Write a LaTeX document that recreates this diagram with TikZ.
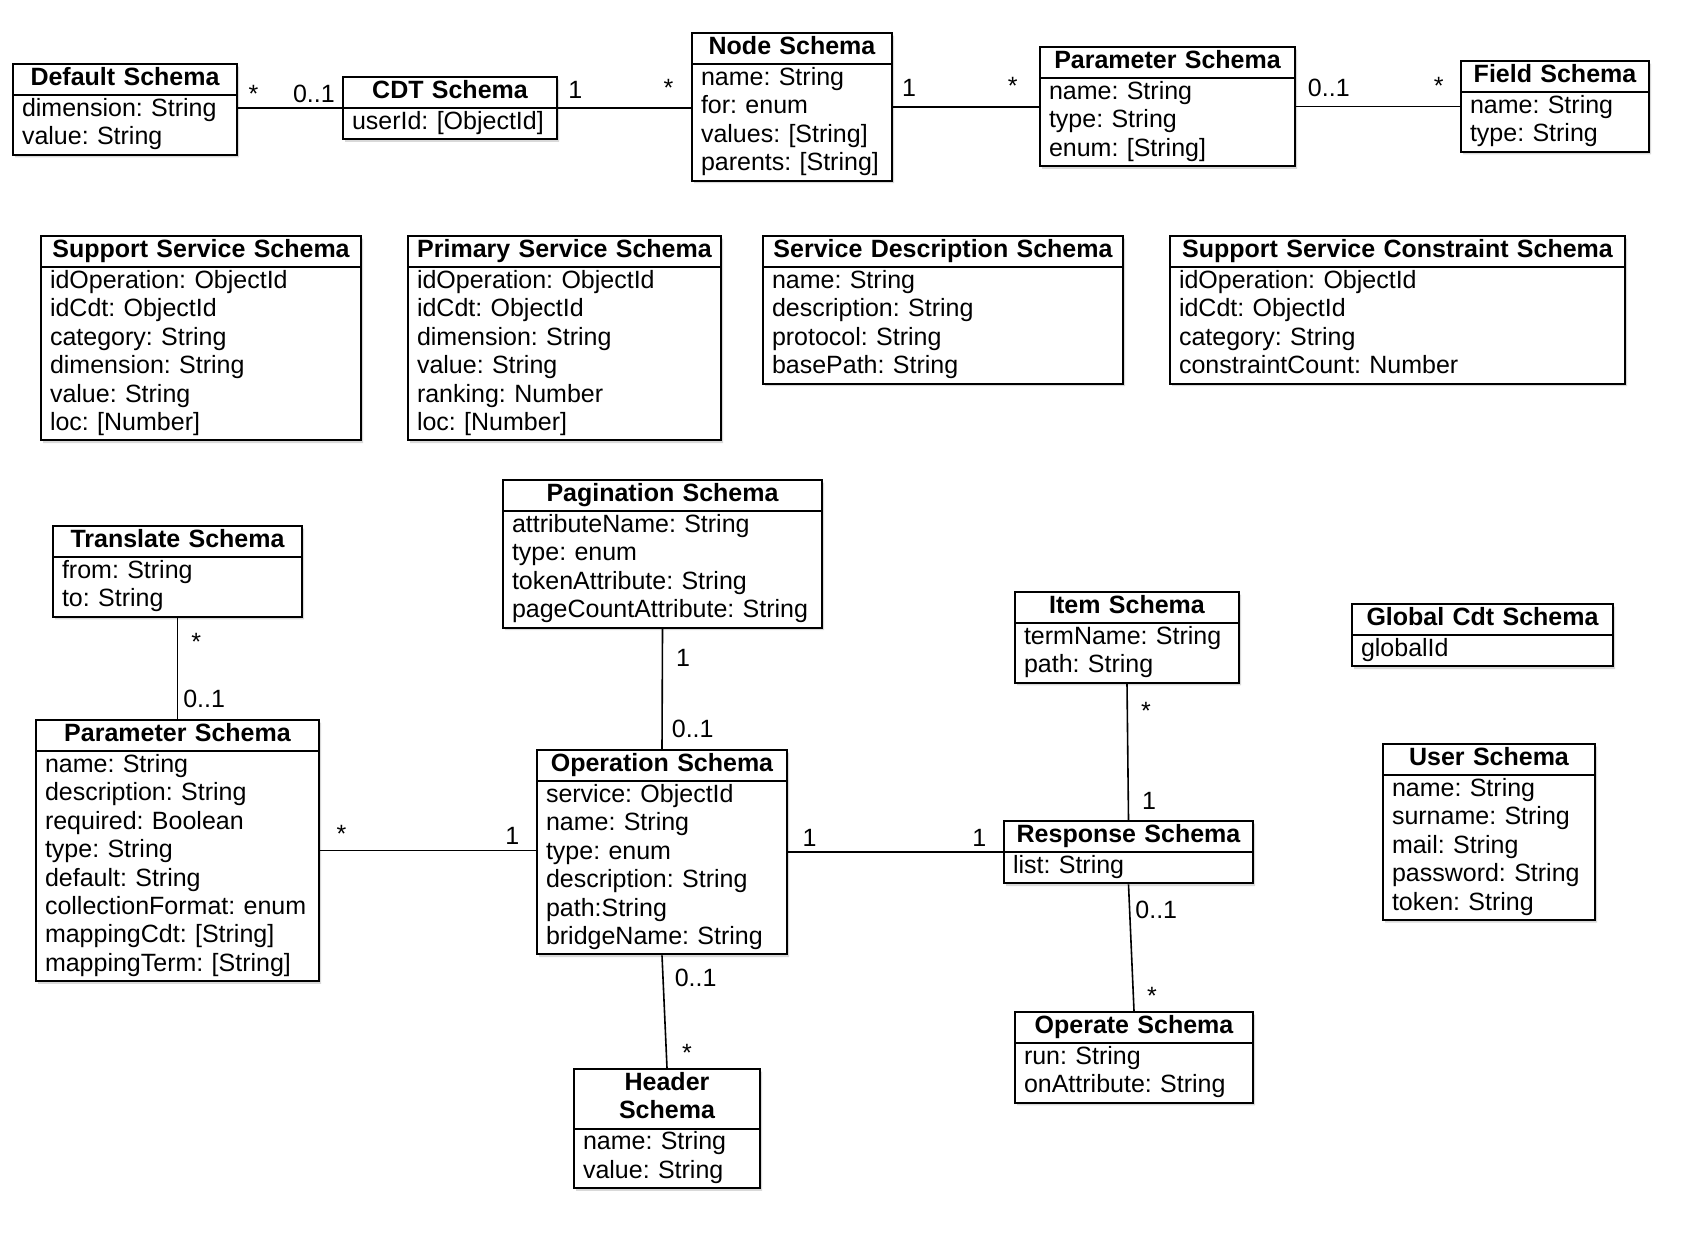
\documentclass[tikz,border=0pt]{standalone}
\usepackage{fontspec}
\setmainfont{Liberation Sans}
\usepackage{tikz}
\usetikzlibrary{shapes.multipart,shadows}
\frenchspacing
\tikzset{
  schema/.style={rectangle split,rectangle split parts=2,draw=black,fill=white,line width=1pt,
    inner xsep=4.5pt,inner ysep=0.2pt,text width=#1,anchor=north west,
    drop shadow={shadow xshift=1pt,shadow yshift=-1.3pt,opacity=0.3}},
  assoc/.style={draw=black,line width=0.8pt},
  mult/.style={inner sep=2.5pt},
}
\newcommand{\umlschema}[2]{{\centering\bfseries\strut#1\strut\par}\nodepart{two}\strut#2\strut}

\begin{document}
\begin{tikzpicture}[x=0.5pt,y=-0.5pt,every node/.style={font=\fontsize{12.5}{14.2}\selectfont}]
  \useasboundingbox (0,0) rectangle (1706,1246);
  % top row
  \node[schema=103pt] (dflt) at (12,63) {\umlschema{Default Schema}{dimension: String\\value: String}};
  \node[schema=98pt] (cdt) at (342,76) {\umlschema{CDT Schema}{userId: [ObjectId]}};
  \node[schema=91pt] (nodesch) at (691,32) {\umlschema{Node Schema}{name: String\\for: enum\\values: [String]\\parents: [String]}};
  \node[schema=118.5pt] (paramtop) at (1039,46) {\umlschema{Parameter Schema}{name: String\\type: String\\enum: [String]}};
  \node[schema=85pt] (field) at (1460,60) {\umlschema{Field Schema}{name: String\\type: String}};
  % services
  \node[schema=151pt] (support) at (40,235) {\umlschema{Support Service Schema}{idOperation: ObjectId\\idCdt: ObjectId\\category: String\\dimension: String\\value: String\\loc: [Number]}};
  \node[schema=147.5pt] (primary) at (407,235) {\umlschema{Primary Service Schema}{idOperation: ObjectId\\idCdt: ObjectId\\dimension: String\\value: String\\ranking: Number\\loc: [Number]}};
  \node[schema=171pt] (servdesc) at (762,235) {\umlschema{Service Description Schema}{name: String\\description: String\\protocol: String\\basePath: String}};
  \node[schema=218.5pt] (constraint) at (1169,235) {\umlschema{Support Service Constraint Schema}{idOperation: ObjectId\\idCdt: ObjectId\\category: String\\constraintCount: Number}};
  % operation part
  \node[schema=150.5pt] (pagination) at (502,479) {\umlschema{Pagination Schema}{attributeName: String\\type: enum\\tokenAttribute: String\\pageCountAttribute:~String}};
  \node[schema=115.5pt] (translate) at (52,525) {\umlschema{Translate Schema}{from: String\\to: String}};
  \node[schema=132.5pt] (param) at (35,719) {\umlschema{Parameter Schema}{name: String\\description: String\\required: Boolean\\type: String\\default: String\\collectionFormat:~enum\\mappingCdt: [String]\\mappingTerm: [String]}};
  \node[schema=116pt] (operation) at (536,749) {\umlschema{Operation Schema}{service: ObjectId\\name: String\\type: enum\\description: String\\path:String\\bridgeName: String}};
  \node[schema=84pt] (header) at (573,1068) {\umlschema{Header\\Schema}{name: String\\value: String}};
  \node[schema=103pt] (item) at (1014,591) {\umlschema{Item Schema}{termName: String\\path: String}};
  \node[schema=115.5pt] (response) at (1003,820) {\umlschema{Response Schema}{list: String}};
  \node[schema=110pt] (operate) at (1014,1011) {\umlschema{Operate Schema}{run: String\\onAttribute: String}};
  % standalone
  \node[schema=121.5pt] (globalcdt) at (1351,603) {\umlschema{Global Cdt Schema}{globalId}};
  \node[schema=97pt] (user) at (1382,743) {\umlschema{User Schema}{name: String\\surname: String\\mail: String\\password: String\\token: String}};

  % associations
  \draw[assoc] (cdt.west -| dflt.east) -- (cdt.west)
    node[mult,pos=0.15,above]{*} node[mult,pos=0.73,above]{0..1};
  \draw[assoc] (cdt.east) -- (cdt.east -| nodesch.west)
    node[mult,pos=0.13,above,yshift=2pt]{1} node[mult,pos=0.83,above,yshift=3pt]{*};
  \draw[assoc] (nodesch.east) -- (nodesch.east -| paramtop.west)
    node[mult,pos=0.11,above,yshift=2pt]{1} node[mult,pos=0.82,above,yshift=3pt]{*};
  \draw[assoc] (paramtop.east) -- (paramtop.east -| field.west)
    node[mult,pos=0.2,above,yshift=2pt]{0..1} node[mult,pos=0.87,above,yshift=3pt]{*};
  \draw[assoc] (translate.south) -- (param.north)
    node[mult,pos=0.24,right=4pt]{*} node[mult,pos=0.8,right]{0..1};
  \draw[assoc] (pagination.south) -- (operation.north)
    node[mult,pos=0.24,right=4pt]{1} node[mult,pos=0.83,right=2pt]{0..1};
  \draw[assoc] (param.east) -- (param.east -| operation.west)
    node[mult,pos=0.1,above,yshift=1pt]{*} node[mult,pos=0.89,above]{1};
  \draw[assoc] (operation.east) -- (operation.east -| response.west)
    node[mult,pos=0.1,above]{1} node[mult,pos=0.89,above]{1};
  \draw[assoc] (operation.south) -- (header.north)
    node[mult,pos=0.2,right=3pt]{0..1} node[mult,pos=0.87,right=5pt]{*};
  \draw[assoc] (item.south) -- (response.north)
    node[mult,pos=0.2,right=4pt]{*} node[mult,pos=0.86,right=4pt]{1};
  \draw[assoc] (response.south) -- (operate.north)
    node[mult,pos=0.2,right]{0..1} node[mult,pos=0.88,right=4pt]{*};
\end{tikzpicture}
\end{document}
